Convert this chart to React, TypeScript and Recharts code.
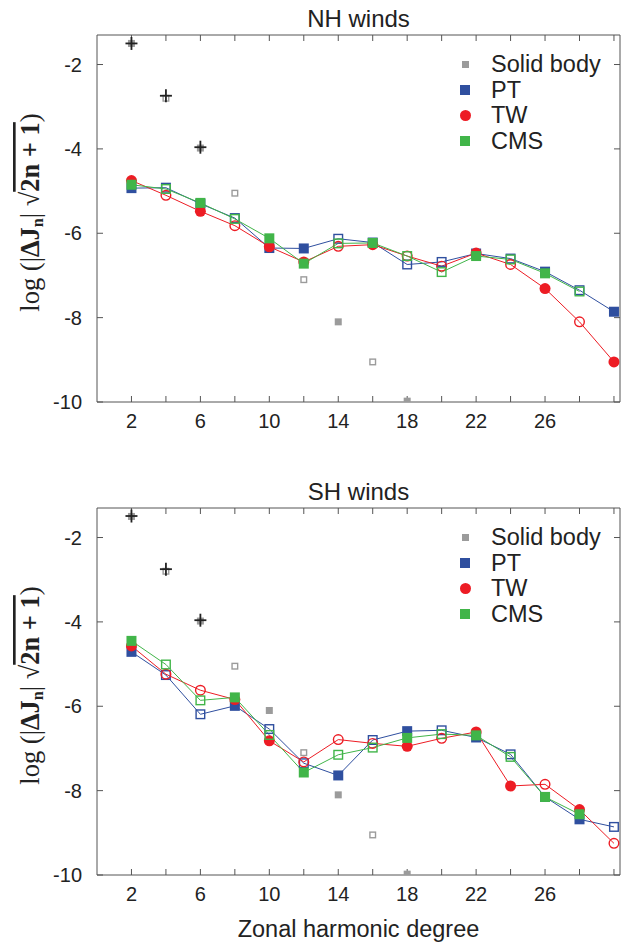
import React from "react";
import { ComposedChart, Line, Scatter, XAxis, YAxis, Legend } from "recharts";

const degrees = [2, 4, 6, 8, 10, 12, 14, 16, 18, 20, 22, 24, 26, 28, 30];
const xTickLabels = [2, 6, 10, 14, 18, 22, 26];
const yTicks = [-10, -8, -6, -4, -2];

// log10 |J_n| sqrt(2n+1); open markers = negative values
const solidBody = [-1.5, -2.8, -3.98, -5.05, -6.1, -7.1, -8.1, -9.05, -9.98];
const solidBodyFilled = [1, 0, 1, 0, 1, 0, 1, 0, 1];

const crossDegrees = [2, 4, 6];
const nhCross = [-1.5, -2.74, -3.96];
const shCross = [-1.49, -2.75, -3.96];

// NH winds
const nhPT = [-4.93, -4.92, -5.3, -5.64, -6.35, -6.36, -6.13, -6.22, -6.74, -6.68, -6.48, -6.6, -6.91, -7.35, -7.86];
const nhPTFilled = [1, 0, 1, 0, 1, 1, 0, 1, 0, 0, 1, 0, 1, 0, 1];
const nhTW = [-4.75, -5.1, -5.48, -5.82, -6.32, -6.68, -6.31, -6.27, -6.54, -6.78, -6.47, -6.74, -7.31, -8.1, -9.05];
const nhTWFilled = [1, 0, 1, 0, 1, 1, 0, 1, 0, 0, 1, 0, 1, 0, 1];
const nhCMS = [-4.85, -4.95, -5.28, -5.66, -6.12, -6.72, -6.24, -6.23, -6.54, -6.92, -6.54, -6.62, -6.95, -7.38];
const nhCMSFilled = [1, 0, 1, 0, 1, 1, 0, 1, 0, 0, 1, 0, 1, 0];

// SH winds
const shPT = [-4.71, -5.26, -6.19, -5.99, -6.54, -7.35, -7.64, -6.8, -6.59, -6.57, -6.74, -7.14, -8.15, -8.68, -8.86];
const shPTFilled = [1, 0, 0, 1, 0, 0, 1, 0, 1, 0, 1, 0, 1, 1, 0];
const shTW = [-4.57, -5.24, -5.62, -5.84, -6.82, -7.32, -6.79, -6.88, -6.95, -6.76, -6.61, -7.89, -7.85, -8.45, -9.25];
const shTWFilled = [1, 0, 0, 1, 1, 0, 0, 0, 1, 0, 1, 1, 0, 1, 0];
const shCMS = [-4.45, -5.01, -5.86, -5.79, -6.68, -7.57, -7.15, -6.98, -6.75, -6.66, -6.69, -7.2, -8.15, -8.56];
const shCMSFilled = [1, 0, 0, 1, 0, 1, 0, 0, 1, 0, 1, 0, 1, 1];

const legendNames = ["Solid body", "PT", "TW", "CMS"];

const GRAY = "#9b9b9b";
const BLUE = "#2f4f9f";
const RED = "#ed1c24";
const GREEN = "#41b549";
const AXIS = "#555";
const FONT = "'Liberation Sans', Arial, sans-serif";

const toRows = (xs: number[], vals: number[], filled: number[]) =>
  vals.map((v, i) => ({ n: xs[i], v, f: filled[i] }));

function Mark({ cx, cy, kind, color, filled, size }: any) {
  if (cx == null || cy == null) return null;
  if (kind === "circle") {
    return filled ? (
      <circle cx={cx} cy={cy} r={size / 2} fill={color} />
    ) : (
      <circle cx={cx} cy={cy} r={size / 2 - 0.7} fill="none" stroke={color} strokeWidth={1.4} />
    );
  }
  const h = size / 2;
  return filled ? (
    <rect x={cx - h} y={cy - h} width={size} height={size} fill={color} />
  ) : (
    <rect x={cx - h + 0.7} y={cy - h + 0.7} width={size - 1.4} height={size - 1.4} fill="none" stroke={color} strokeWidth={1.4} />
  );
}

const lineDot = (kind: string, color: string, size: number) => (p: any) => (
  <Mark key={`d-${p.index}`} cx={p.cx} cy={p.cy} kind={kind} color={color} filled={p.payload.f === 1} size={size} />
);

function CrossMark({ cx, cy }: any) {
  if (cx == null || cy == null) return null;
  return (
    <g stroke="#222" strokeWidth={1.8}>
      <line x1={cx - 6} y1={cy} x2={cx + 6} y2={cy} />
      <line x1={cx} y1={cy - 6.5} x2={cx} y2={cy + 6.5} />
    </g>
  );
}

function LegendBox() {
  const markers = [
    <span style={{ width: 7, height: 7, background: GRAY, display: "inline-block" }} />,
    <span style={{ width: 10, height: 10, background: BLUE, display: "inline-block" }} />,
    <span style={{ width: 11, height: 11, background: RED, borderRadius: "50%", display: "inline-block" }} />,
    <span style={{ width: 10, height: 10, background: GREEN, display: "inline-block" }} />,
  ];
  return (
    <div style={{ fontFamily: FONT, fontSize: 23.5, color: "#222" }}>
      {legendNames.map((name, i) => (
        <div key={name} style={{ display: "flex", alignItems: "center", height: 25.5 }}>
          <span style={{ width: 20, display: "flex", justifyContent: "center" }}>{markers[i]}</span>
          <span style={{ marginLeft: 16 }}>{name}</span>
        </div>
      ))}
    </div>
  );
}

function Panel({ top, cross, pt, ptF, tw, twF, cms, cmsF }: any) {
  const solid = toRows(degrees, solidBody, solidBodyFilled);
  const crosses = toRows(crossDegrees, cross, [1, 1, 1]);
  const xDomain = [0, 30.35];
  const yDomain = [-10, -1.3];
  return (
    <div style={{ position: "absolute", left: 0, top, width: 627, height: 470 }}>
      <ComposedChart width={627} height={470} margin={{ top: 34, right: 6, left: 37, bottom: 38 }}>
        <XAxis
          xAxisId="b"
          dataKey="n"
          type="number"
          domain={xDomain}
          ticks={degrees}
          allowDataOverflow
          height={30}
          tickSize={-6}
          tickMargin={18}
          tickFormatter={(v: number) => (xTickLabels.includes(v) ? String(v) : "")}
          stroke={AXIS}
          tick={{ fill: "#222", fontSize: 20, fontFamily: FONT }}
        />
        <XAxis
          xAxisId="t"
          dataKey="n"
          type="number"
          orientation="top"
          domain={xDomain}
          ticks={degrees}
          allowDataOverflow
          height={1}
          tickSize={-6}
          tickFormatter={() => ""}
          stroke={AXIS}
        />
        <YAxis
          yAxisId="l"
          type="number"
          domain={yDomain}
          ticks={yTicks}
          allowDataOverflow
          width={60}
          tickSize={-6}
          tickMargin={21}
          stroke={AXIS}
          tick={{ fill: "#222", fontSize: 20, fontFamily: FONT }}
        />
        <YAxis
          yAxisId="r"
          type="number"
          orientation="right"
          domain={yDomain}
          ticks={yTicks}
          allowDataOverflow
          width={1}
          tickSize={-6}
          tickFormatter={() => ""}
          stroke={AXIS}
        />
        <Legend
          layout="vertical"
          align="center"
          verticalAlign="middle"
          content={() => <LegendBox />}
          wrapperStyle={{ left: 455, top: 52, width: 170, height: 102 }}
        />
        <Scatter
          xAxisId="b"
          yAxisId="l"
          data={solid}
          dataKey="v"
          isAnimationActive={false}
          shape={(p: any) => <Mark cx={p.cx} cy={p.cy} kind="square" color={GRAY} filled={p.payload.f === 1} size={7} />}
        />
        <Scatter
          xAxisId="b"
          yAxisId="l"
          data={crosses}
          dataKey="v"
          isAnimationActive={false}
          shape={(p: any) => <CrossMark cx={p.cx} cy={p.cy} />}
        />
        <Line
          xAxisId="b"
          yAxisId="l"
          data={toRows(degrees, pt, ptF)}
          dataKey="v"
          stroke={BLUE}
          strokeWidth={1}
          dot={lineDot("square", BLUE, 10)}
          activeDot={false}
          isAnimationActive={false}
        />
        <Line
          xAxisId="b"
          yAxisId="l"
          data={toRows(degrees, tw, twF)}
          dataKey="v"
          stroke={RED}
          strokeWidth={1}
          dot={lineDot("circle", RED, 11)}
          activeDot={false}
          isAnimationActive={false}
        />
        <Line
          xAxisId="b"
          yAxisId="l"
          data={toRows(degrees, cms, cmsF)}
          dataKey="v"
          stroke={GREEN}
          strokeWidth={1}
          dot={lineDot("square", GREEN, 10)}
          activeDot={false}
          isAnimationActive={false}
        />
      </ComposedChart>
    </div>
  );
}

function YLabel({ cy }: { cy: number }) {
  return (
    <text
      transform={`rotate(-90, 39, ${cy})`}
      x={39}
      y={cy}
      textAnchor="middle"
      fontFamily="'Liberation Serif', 'DejaVu Serif', serif"
      fontSize={26.5}
      fill="#222"
    >
      <tspan>log (|</tspan>
      <tspan fontWeight="bold">ΔJ</tspan>
      <tspan fontSize={16} fontWeight="bold" dy={4}>n</tspan>
      <tspan dy={-4}>| √</tspan>
      <tspan fontWeight="bold" style={{ textDecoration: "overline" }}>2n + 1</tspan>
      <tspan>)</tspan>
    </text>
  );
}

export default function App() {
  return (
    <div style={{ position: "absolute", left: 0, top: 0, width: 627, height: 944, background: "#fff" }}>
      <Panel top={0} cross={nhCross} pt={nhPT} ptF={nhPTFilled} tw={nhTW} twF={nhTWFilled} cms={nhCMS} cmsF={nhCMSFilled} />
      <Panel top={473} cross={shCross} pt={shPT} ptF={shPTFilled} tw={shTW} twF={shTWFilled} cms={shCMS} cmsF={shCMSFilled} />
      <svg width={627} height={944} style={{ position: "absolute", left: 0, top: 0, pointerEvents: "none" }}>
        <text x={358.5} y={26.7} textAnchor="middle" fontFamily={FONT} fontSize={24} fill="#222">NH winds</text>
        <text x={358.5} y={500} textAnchor="middle" fontFamily={FONT} fontSize={24} fill="#222">SH winds</text>
        <text x={358.5} y={936.5} textAnchor="middle" fontFamily={FONT} fontSize={23.5} fill="#222">Zonal harmonic degree</text>
        <YLabel cy={212.5} />
        <YLabel cy={685.5} />
      </svg>
    </div>
  );
}
